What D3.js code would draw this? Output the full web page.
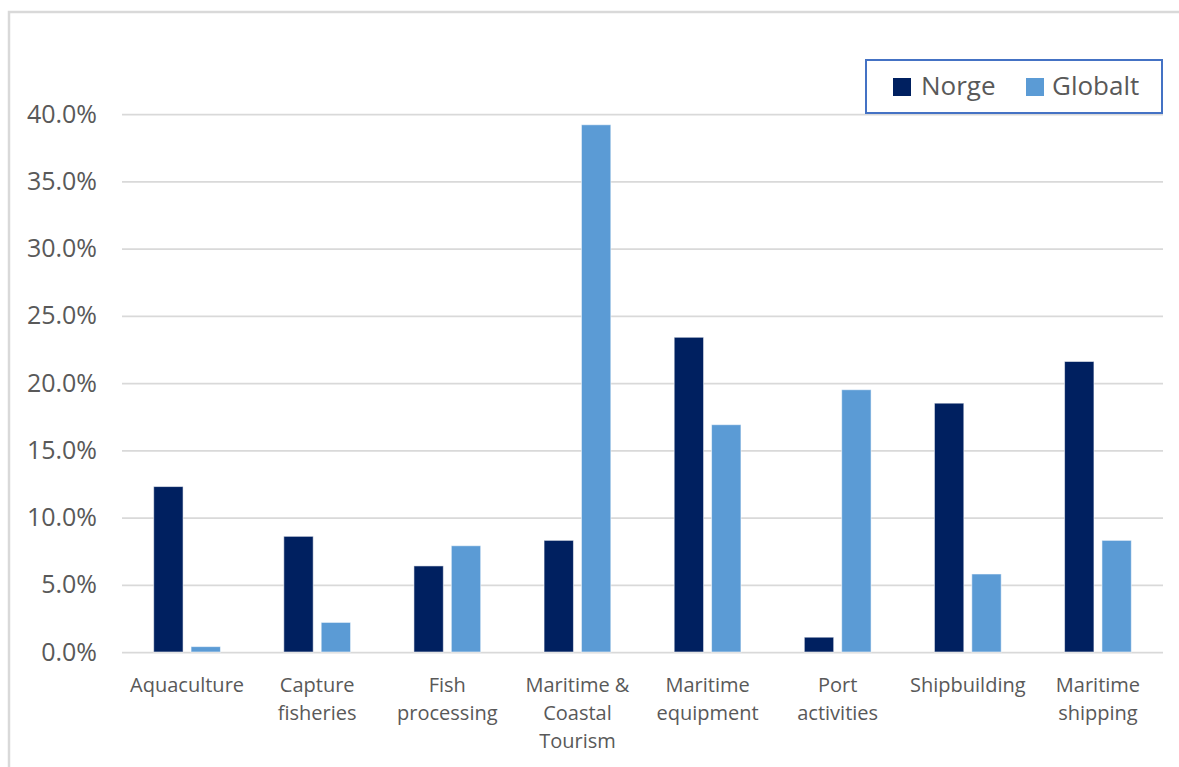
<!DOCTYPE html>
<html>
<head>
<meta charset="utf-8">
<script src="https://cdn.jsdelivr.net/npm/d3@7"></script>
<style>
  html, body { margin: 0; padding: 0; background: #ffffff; }
  svg { display: block; font-family: "Open Sans", "Noto Sans", sans-serif; }
</style>
</head>
<body>
<svg id="chart" width="1179" height="767"></svg>
<script>
// Share of maritime sector value, Norway vs. global (%)
const categories = [
  "Aquaculture", "Capture fisheries", "Fish processing", "Maritime & Coastal Tourism",
  "Maritime equipment", "Port activities", "Shipbuilding", "Maritime shipping"
];
const categoryLines = [
  ["Aquaculture"], ["Capture", "fisheries"], ["Fish", "processing"], ["Maritime &", "Coastal", "Tourism"],
  ["Maritime", "equipment"], ["Port", "activities"], ["Shipbuilding"], ["Maritime", "shipping"]
];
const seriesNames = ["Norge", "Globalt"];
const norge   = [12.3, 8.6, 6.4, 8.3, 23.4, 1.1, 18.5, 21.6];
const globalt = [0.4, 2.2, 7.9, 39.2, 16.9, 19.5, 5.8, 8.3];
const yTicks  = [0, 5, 10, 15, 20, 25, 30, 35, 40];

const colors = { "Norge": "#002060", "Globalt": "#5b9bd5" };
const textColor = "#595959";
const gridColor = "#d9d9d9";

const svg = d3.select("#chart");

// outer chart frame
svg.append("rect")
  .attr("x", 9).attr("y", 12)
  .attr("width", 1200).attr("height", 800)
  .attr("fill", "#ffffff")
  .attr("stroke", gridColor)
  .attr("stroke-width", 2.5);

const plot = { left: 122, right: 1163, top: 114, bottom: 652 };

const x = d3.scaleBand()
  .domain(categories)
  .range([plot.left, plot.right])
  .paddingInner(0.487)
  .paddingOuter(0.2435);

const xs = d3.scaleBand()
  .domain(seriesNames)
  .range([0, x.bandwidth()])
  .paddingInner(0.214)
  .paddingOuter(0);

const y = d3.scaleLinear()
  .domain([0, 40])
  .range([plot.bottom, plot.top]);

// horizontal gridlines with percent labels
const yAxis = d3.axisLeft(y)
  .tickValues(yTicks)
  .tickSize(-(plot.right - plot.left))
  .tickPadding(25)
  .tickFormat(d => d.toFixed(1) + "%");

const gy = svg.append("g")
  .attr("transform", `translate(${plot.left},0)`)
  .call(yAxis);
gy.select(".domain").remove();
gy.selectAll(".tick line")
  .attr("stroke", gridColor)
  .attr("stroke-width", 1.75);
gy.selectAll(".tick text")
  .attr("fill", textColor)
  .attr("font-size", 25)
  .attr("font-family", "'Open Sans', sans-serif");

// bars
const rows = categories.map((c, i) => ({ category: c, values: [
  { name: "Norge", value: norge[i] },
  { name: "Globalt", value: globalt[i] }
]}));

const groups = svg.append("g").selectAll("g")
  .data(rows)
  .join("g")
  .attr("transform", d => `translate(${x(d.category)},0)`);

groups.selectAll("rect")
  .data(d => d.values)
  .join("rect")
  .attr("x", d => xs(d.name))
  .attr("width", xs.bandwidth())
  .attr("y", d => y(d.value))
  .attr("height", d => y(0) - y(d.value))
  .attr("fill", d => colors[d.name])
  .attr("stroke", "rgba(255,255,255,0.55)")
  .attr("stroke-width", 1);

// category labels
const xAxis = d3.axisBottom(x).tickSize(0).tickFormat("");
const gx = svg.append("g")
  .attr("transform", `translate(0,${plot.bottom})`)
  .call(xAxis);
gx.select(".domain").remove();

const labels = svg.append("g")
  .attr("fill", textColor)
  .attr("font-size", 20)
  .attr("text-anchor", "middle");

categories.forEach((c, i) => {
  const cx = x(c) + x.bandwidth() / 2;
  const t = labels.append("text")
    .attr("x", cx)
    .attr("y", 692);
  categoryLines[i].forEach((line, j) => {
    t.append("tspan")
      .attr("x", cx)
      .attr("dy", j === 0 ? 0 : 28)
      .text(line);
  });
});

// legend
const legend = svg.append("g");
legend.append("rect")
  .attr("x", 866).attr("y", 60)
  .attr("width", 296).attr("height", 53)
  .attr("fill", "#ffffff")
  .attr("stroke", "#4472c4")
  .attr("stroke-width", 2);

const legendItems = [
  { name: "Norge", sx: 893, tx: 921 },
  { name: "Globalt", sx: 1026, tx: 1052 }
];
legendItems.forEach(item => {
  legend.append("rect")
    .attr("x", item.sx).attr("y", 78)
    .attr("width", 18).attr("height", 18)
    .attr("fill", colors[item.name]);
  legend.append("text")
    .attr("x", item.tx).attr("y", 95)
    .attr("fill", textColor)
    .attr("font-size", 26)
    .text(item.name);
});
</script>
</body>
</html>
